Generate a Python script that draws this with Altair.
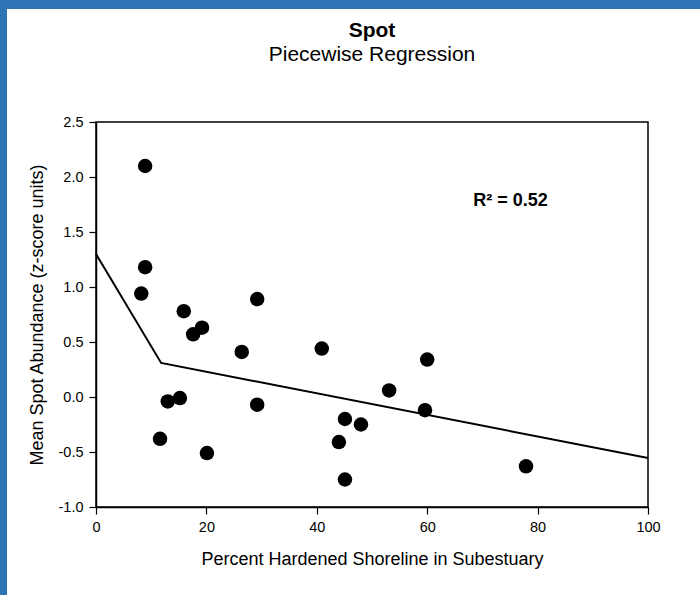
import altair as alt
import pandas as pd

# data
pct_hardened = [8.9, 8.9, 8.2, 15.9, 17.6, 19.2, 29.2, 26.4, 40.9, 60.0, 53.1,
                59.6, 13.0, 15.2, 29.2, 11.6, 20.1, 45.1, 48.0, 44.0, 45.1, 77.9]
spot_abund = [2.10, 1.18, 0.94, 0.78, 0.57, 0.63, 0.89, 0.41, 0.44, 0.34, 0.06,
              -0.12, -0.04, -0.01, -0.07, -0.38, -0.51, -0.20, -0.25, -0.41, -0.75, -0.63]

fit_x = [0, 11.8, 100]
fit_y = [1.30, 0.31, -0.555]

r2_label = ["R² = 0.52"]
r2_x = [75.1]
r2_y = [1.78]

title_lines = ["Spot", "Piecewise Regression"]

pts = pd.DataFrame({"x": pct_hardened, "y": spot_abund})
fit = pd.DataFrame({"x": fit_x, "y": fit_y})
ann = pd.DataFrame({"t": r2_label, "x": r2_x, "y": r2_y})

FONT = "Liberation Sans"
W, H = 552, 385
PL, PT = 96, 122
BLUE = "#2e75b6"

xscale = alt.Scale(domain=[0, 100], nice=False, zero=False)
yscale = alt.Scale(domain=[-1.0, 2.5], nice=False, zero=False)

xaxis = alt.Axis(values=[0, 20, 40, 60, 80, 100], title="Percent Hardened Shoreline in Subestuary",
                 titlePadding=17)
yaxis = alt.Axis(values=[-1.0, -0.5, 0.0, 0.5, 1.0, 1.5, 2.0, 2.5],
                 labelExpr="replace(format(datum.value, '.1f'), '\u2212', '-')",
                 title="Mean Spot Abundance (z-score units)",
                 titlePadding=12)

one = pd.DataFrame({"a": [0]})
band_top = alt.Chart(one).mark_rect(color=BLUE, clip=False).encode(
    x=alt.value(-PL), x2=alt.value(700 - PL), y=alt.value(-PT), y2=alt.value(9 - PT))
band_left = alt.Chart(one).mark_rect(color=BLUE, clip=False).encode(
    x=alt.value(-PL), x2=alt.value(7 - PL), y=alt.value(-PT), y2=alt.value(595 - PT))

title1 = alt.Chart(one).mark_text(text=title_lines[0], font=FONT, fontSize=21, fontWeight="bold",
                                  color="black", align="center", baseline="alphabetic").encode(
    x=alt.value(W / 2), y=alt.value(37 - PT))
title2 = alt.Chart(one).mark_text(text=title_lines[1], font=FONT, fontSize=21, color="black",
                                  align="center", baseline="alphabetic").encode(
    x=alt.value(W / 2), y=alt.value(61 - PT))

line = alt.Chart(fit).mark_line(color="black", strokeWidth=2).encode(
    x=alt.X("x:Q", scale=xscale, axis=xaxis),
    y=alt.Y("y:Q", scale=yscale, axis=yaxis),
)

points = alt.Chart(pts).mark_circle(color="black", opacity=1, size=210).encode(
    x=alt.X("x:Q", scale=xscale, axis=xaxis),
    y=alt.Y("y:Q", scale=yscale, axis=yaxis),
)

text = alt.Chart(ann).mark_text(font=FONT, fontSize=18, fontWeight="bold", color="black",
                                align="center", baseline="middle").encode(
    x=alt.X("x:Q", scale=xscale, axis=xaxis),
    y=alt.Y("y:Q", scale=yscale, axis=yaxis),
    text="t:N",
)

chart = alt.layer(band_top, band_left, title1, title2, line, points, text).properties(
    width=W, height=H,
    background="white",
    padding={"left": PL, "top": PT, "right": 700 - PL - W, "bottom": 595 - PT - H},
    autosize=alt.AutoSizeParams(type="none"),
).configure_view(stroke="black", strokeWidth=1.5).configure_axis(
    grid=False, domainColor="black", tickColor="black", domainWidth=1.5, tickWidth=1.2,
    tickSize=7, labelFontSize=14.5, labelColor="black", labelFont=FONT, labelPadding=6,
    labelFlush=False, labelOverlap=False,
    titleFont=FONT, titleFontSize=18, titleFontWeight="normal", titleColor="black",
)

chart.save("out.html", embed_options={"renderer": "svg", "actions": False})
